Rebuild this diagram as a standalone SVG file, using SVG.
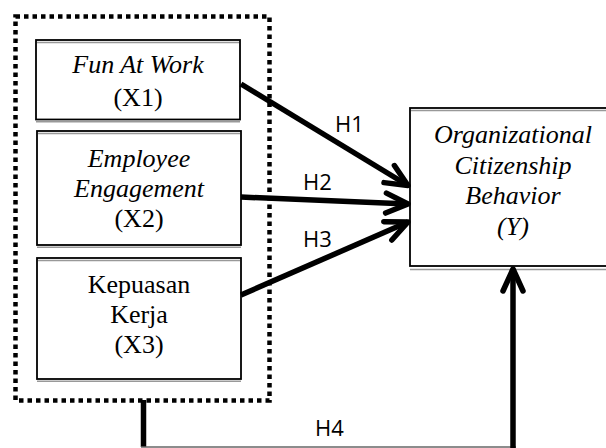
<svg xmlns="http://www.w3.org/2000/svg" width="606" height="448" viewBox="0 0 606 448">
<defs>
<style>
.box{fill:#fff;stroke:#000;stroke-width:1.8}
.sh{stroke:#999;stroke-width:1.5;fill:none}
.t{font-family:"Liberation Serif","Times New Roman",serif;font-size:26px;fill:#000;text-anchor:middle}
.i{font-style:italic}
.h{font-family:"Open Sans","Liberation Sans",sans-serif;font-size:22px;fill:#000}
.c{stroke:#000;stroke-width:5.5;fill:none;stroke-linecap:butt}
</style>
<marker id="ah" markerUnits="userSpaceOnUse" viewBox="-30 -16 34 32" refX="0" refY="0" markerWidth="34" markerHeight="32" orient="auto" overflow="visible">
<path d="M-22 -10 L0 0 L-22 10" fill="none" stroke="#000" stroke-width="5.5" stroke-linecap="round" stroke-linejoin="round"/>
</marker>
</defs>
<rect x="0" y="0" width="606" height="448" fill="#fff"/>

<g id="group-x">
<rect x="15.5" y="16.5" width="254" height="384" fill="none" stroke="#000" stroke-width="4.5" stroke-dasharray="4.5 4"/>
</g>

<g id="x1">
<rect class="box" x="36" y="40" width="204" height="79.5"/>
<line class="sh" x1="37" y1="42.5" x2="239" y2="42.5"/>
<line class="sh" x1="36" y1="121.8" x2="240" y2="121.8"/>
<text class="t i" x="138" y="73">Fun At Work</text>
<text class="t" x="138" y="106">(X1)</text>
</g>

<g id="x2">
<rect class="box" x="37" y="131" width="204" height="114"/>
<line class="sh" x1="38" y1="133.5" x2="240" y2="133.5"/>
<line class="sh" x1="37" y1="247.3" x2="241" y2="247.3"/>
<text class="t i" x="139" y="166.5">Employee</text>
<text class="t i" x="139" y="196.5">Engagement</text>
<text class="t" x="139" y="227">(X2)</text>
</g>

<g id="x3">
<rect class="box" x="37" y="258" width="204" height="121"/>
<line class="sh" x1="38" y1="260.5" x2="240" y2="260.5"/>
<line class="sh" x1="37" y1="381.3" x2="241" y2="381.3"/>
<text class="t" x="139" y="292.5">Kepuasan</text>
<text class="t" x="139" y="322.5">Kerja</text>
<text class="t" x="139" y="352.5">(X3)</text>
</g>

<g id="y">
<rect class="box" x="410" y="108" width="220" height="158"/>
<line class="sh" x1="411" y1="110.5" x2="606" y2="110.5"/>
<line class="sh" x1="410" y1="269.5" x2="606" y2="269.5"/>
<text class="t i" x="513" y="143">Organizational</text>
<text class="t i" x="513" y="173.5">Citizenship</text>
<text class="t i" x="513" y="204">Behavior</text>
<text class="t i" x="513" y="235">(Y)</text>
</g>

<g id="connectors">
<line class="c" x1="241" y1="84" x2="408" y2="185.5" marker-end="url(#ah)"/>
<line class="c" x1="241" y1="197" x2="408" y2="204" marker-end="url(#ah)"/>
<line class="c" x1="241" y1="295" x2="408" y2="222" marker-end="url(#ah)"/>
<line x1="143.5" y1="400" x2="143.5" y2="447" stroke="#000" stroke-width="5.5"/>
<line x1="141" y1="447" x2="516" y2="447" stroke="#666" stroke-width="1.5"/>
<line class="c" x1="513" y1="448" x2="513" y2="269" marker-end="url(#ah)"/>
<text class="h" x="335" y="131.5">H1</text>
<text class="h" x="303" y="190">H2</text>
<text class="h" x="303" y="246.5">H3</text>
<text class="h" x="315" y="436">H4</text>
</g>
</svg>
